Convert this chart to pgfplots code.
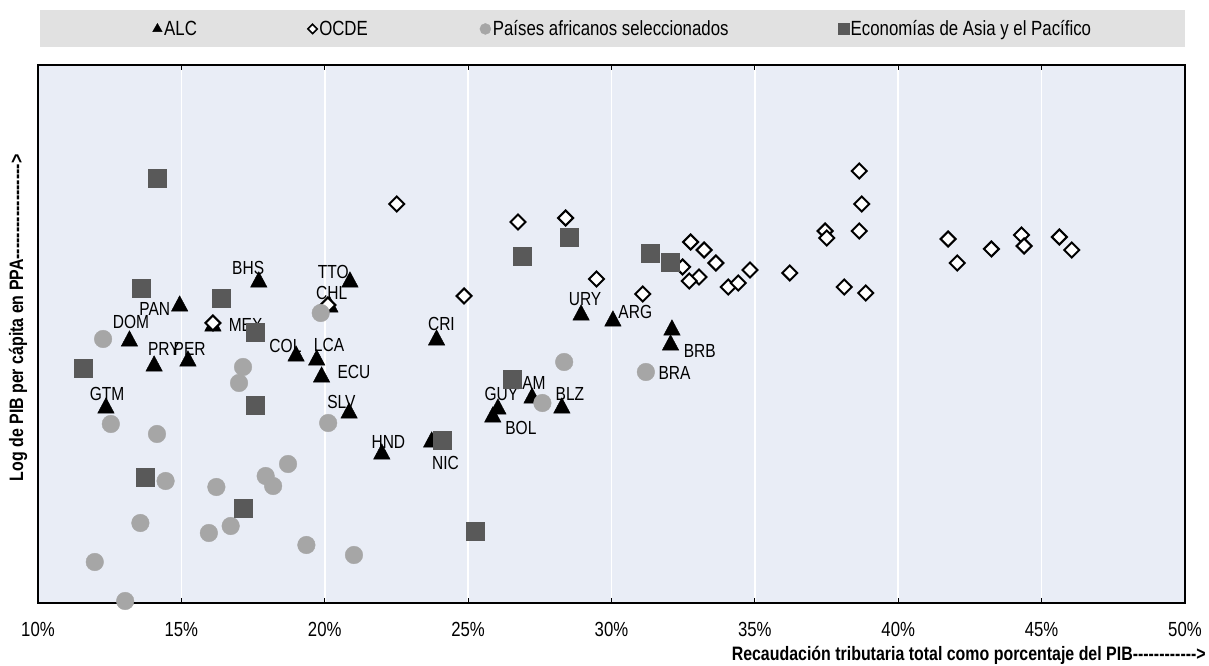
\documentclass[border=0pt]{standalone}
\usepackage{fontspec}
\setmainfont{Liberation Sans}[FakeStretch=0.82]
\usepackage{pgfplots}
\usepackage{pgfplotstable}
\pgfplotsset{compat=1.18}
\definecolor{plotbg}{RGB}{233,237,246}
\definecolor{leggray}{RGB}{225,225,225}
\definecolor{afr}{RGB}{166,166,166}
\definecolor{asia}{RGB}{89,89,89}
\def\dd{-\kern0pt}
\tikzset{lbl/.style={font=\fontsize{19}{21}\selectfont, inner sep=0pt, anchor=center}}

\pgfplotstableread{
x y
12.37 7.95
13.19 8.62
14.94 8.97
14.05 8.37
15.23 8.42
16.10 8.77
17.70 9.21
20.88 9.21
20.18 8.96
19.00 8.47
19.72 8.43
19.89 8.26
20.85 7.90
21.99 7.49
23.73 7.61
23.90 8.63
26.04 7.94
25.86 7.86
27.23 8.05
28.27 7.95
28.94 8.88
30.05 8.82
32.11 8.73
32.06 8.58
}\alc

\pgfplotstableread{
x y
16.10 8.80
20.11 8.98
22.51 9.99
24.86 9.07
26.74 9.81
28.40 9.85
29.48 9.24
31.09 9.09
32.76 9.61
33.23 9.53
33.64 9.40
32.48 9.36
33.05 9.26
32.71 9.22
34.07 9.16
34.42 9.20
34.83 9.33
36.22 9.30
37.45 9.72
37.51 9.65
38.64 10.32
38.73 9.99
38.64 9.72
38.12 9.16
38.87 9.10
41.74 9.64
42.06 9.40
43.25 9.54
44.30 9.68
44.39 9.57
45.62 9.66
46.05 9.53
}\ocde

\pgfplotstableread{
x y
12.27 8.64
19.86 8.90
17.15 8.36
17.01 8.20
28.35 8.41
27.59 8.00
31.20 8.31
20.12 7.80
12.54 7.79
14.15 7.69
14.45 7.22
16.22 7.16
17.94 7.27
18.20 7.17
18.72 7.39
13.57 6.80
16.72 6.77
15.96 6.70
19.36 6.58
21.02 6.48
11.98 6.41
13.04 6.02
}\afr

\pgfplotstableread{
x y
14.16 10.25
13.60 9.15
16.38 9.05
17.59 8.71
11.57 8.35
17.56 7.98
13.74 7.26
17.14 6.95
24.09 7.63
25.25 6.72
26.55 8.24
26.87 9.47
28.51 9.66
31.34 9.50
32.04 9.41
}\asia

\begin{document}
\begin{tikzpicture}
\useasboundingbox (0,0) rectangle (1209bp,666bp);
\fill[leggray] (40bp,619bp) rectangle (1185bp,656bp);
\begin{axis}[
  at={(38bp,63bp)}, anchor=south west, scale only axis,
  width=1147bp, height=538bp,
  xmin=10, xmax=50, ymin=6, ymax=11.38, clip=false,
  axis background/.style={fill=plotbg},
  xtick={10,15,20,25,30,35,40,45,50},
  xticklabels={10\%,15\%,20\%,25\%,30\%,35\%,40\%,45\%,50\%},
  ytick=\empty,
  xmajorgrids, major grid style={white, line width=1.6bp},
  tick align=inside, major tick length=5bp, tick style={black, line width=1bp},
  axis line style={black, line width=1.2bp},
  xticklabel style={font=\fontsize{20.5}{22}\selectfont, anchor=base, yshift=-33bp},
  xlabel={Recaudación tributaria total como porcentaje del PIB\dd\dd\dd\dd\dd\dd\dd\dd\dd\dd\dd\dd>},
  xlabel style={font=\bfseries\fontsize{19.5}{21}\selectfont, at={(axis description cs:1.0183,-0.1075)}, anchor=base east, inner sep=0pt},
  ylabel={Log de PIB per cápita en PPA\dd\dd\dd\dd\dd\dd\dd\dd\dd\dd\dd\dd\dd\dd\dd\dd\dd\dd>},
  ylabel style={font=\bfseries\fontsize{19.5}{21}\selectfont, at={(axis description cs:-0.0174,0.226)}, anchor=west, inner sep=0pt},
  legend columns=4,
  legend style={draw=none, fill=none, inner sep=0pt, font=\fontsize{20.6}{22}\selectfont,
    nodes={inner sep=0.5bp},
    at={(axis description cs:0.0998,1.067)}, anchor=west,
    /tikz/every odd column/.append style={column sep=1.5bp},
    /tikz/column 2/.style={column sep=110.5bp},
    /tikz/column 4/.style={column sep=111.5bp},
    /tikz/column 6/.style={column sep=109bp}},
]
\draw[black, line width=2.4bp] (rel axis cs:0,1) -- (rel axis cs:0,0) -- (rel axis cs:1,0);
\addplot[only marks, mark=triangle*, mark size=9.5bp, mark options={fill=black, draw=black, yscale=1.08},
  legend image code/.code={\draw[mark=triangle*, mark size=5.5bp, mark options={fill=black, draw=black}] plot coordinates {(0bp,0bp)};}]
  table {\alc};
\addlegendentry{ALC}
\addplot[only marks, mark=square*, mark size=5.3bp, mark options={rotate=45, fill=white, draw=black, line width=2bp},
  legend image code/.code={\draw[mark=square*, mark size=3.3bp, mark options={rotate=45, fill=white, draw=black, line width=1.6bp}] plot coordinates {(0bp,0bp)};}]
  table {\ocde};
\addlegendentry{OCDE}
\addplot[only marks, mark=*, mark size=8.8bp, mark options={fill=afr, draw=afr},
  legend image code/.code={\draw[mark=*, mark size=5.5bp, mark options={fill=afr, draw=afr}] plot coordinates {(0bp,0bp)};}]
  table {\afr};
\addlegendentry{Países africanos seleccionados}
\addplot[only marks, mark=square*, mark size=9bp, mark options={fill=asia, draw=asia},
  legend image code/.code={\draw[mark=square*, mark size=5.3bp, mark options={fill=asia, draw=asia}] plot coordinates {(0bp,0bp)};}]
  table {\asia};
\addlegendentry{Economías de Asia y el Pacífico}
\node[lbl] at (axis cs:12.41,8.095) {GTM};
\node[lbl] at (axis cs:13.24,8.81) {DOM};
\node[lbl] at (axis cs:14.07,8.94) {PAN};
\node[lbl] at (axis cs:14.39,8.54) {PRY};
\node[lbl] at (axis cs:15.29,8.54) {PER};
\node[lbl] at (axis cs:17.24,8.78) {MEX};
\node[lbl] at (axis cs:17.33,9.35) {BHS};
\node[lbl] at (axis cs:20.30,9.31) {TTO};
\node[lbl] at (axis cs:20.24,9.10) {CHL};
\node[lbl] at (axis cs:18.63,8.57) {COL};
\node[lbl] at (axis cs:20.15,8.58) {LCA};
\node[lbl] at (axis cs:21.02,8.31) {ECU};
\node[lbl] at (axis cs:20.58,8.01) {SLV};
\node[lbl] at (axis cs:22.22,7.61) {HND};
\node[lbl] at (axis cs:24.21,7.40) {NIC};
\node[lbl] at (axis cs:24.07,8.79) {CRI};
\node[lbl] at (axis cs:26.16,8.09) {GUY};
\node[lbl] at (axis cs:27.16,8.20) {JAM};
\node[lbl] at (axis cs:28.55,8.09) {BLZ};
\node[lbl] at (axis cs:26.84,7.75) {BOL};
\node[lbl] at (axis cs:29.08,9.04) {URY};
\node[lbl] at (axis cs:30.83,8.91) {ARG};
\node[lbl] at (axis cs:33.08,8.52) {BRB};
\node[lbl] at (axis cs:32.20,8.305) {BRA};
\end{axis}
\end{tikzpicture}
\end{document}
